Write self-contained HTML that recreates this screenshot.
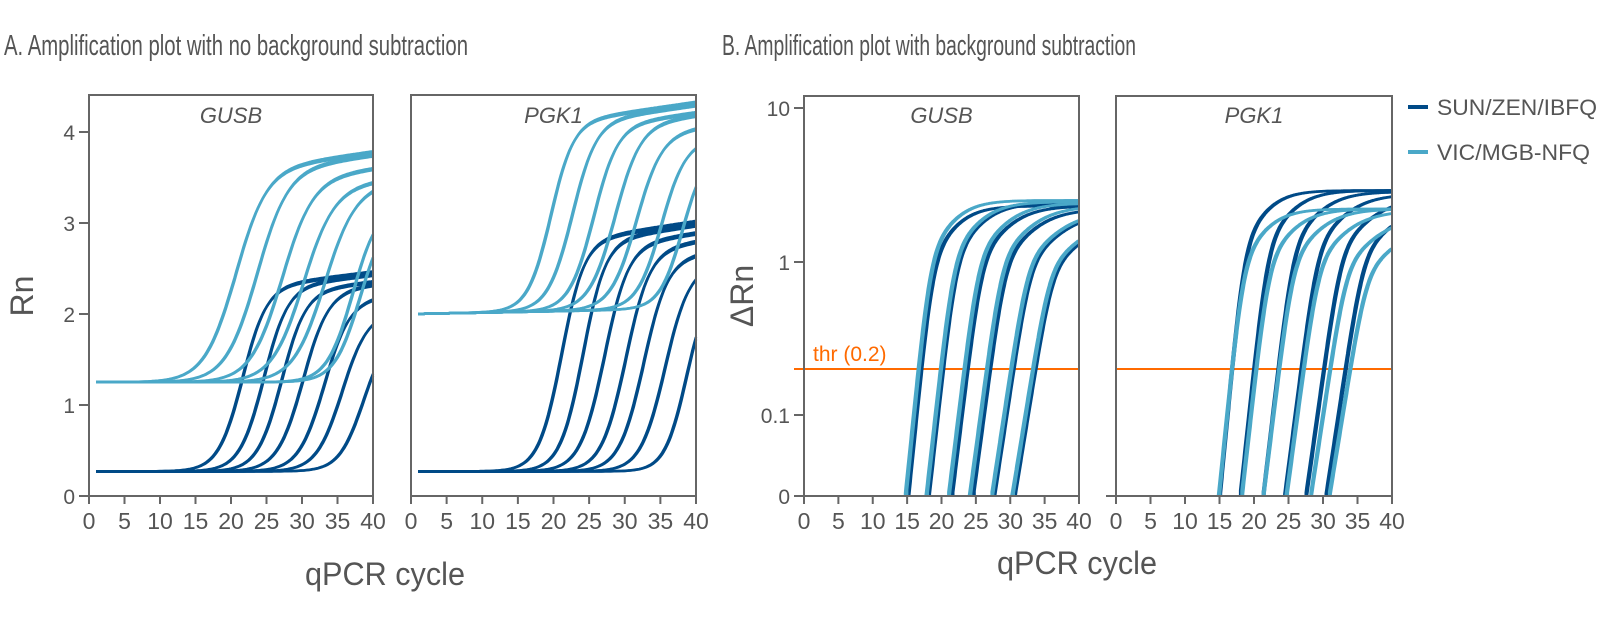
<!DOCTYPE html>
<html><head><meta charset="utf-8"><style>
html,body{margin:0;padding:0;background:#fff}
svg{display:block}
text{font-family:"Liberation Sans",sans-serif;fill:#555}
</style></head><body>
<svg id="s" width="1600" height="628" xmlns="http://www.w3.org/2000/svg">
<text x="4" y="55" font-size="29" textLength="464" lengthAdjust="spacingAndGlyphs">A. Amplification plot with no background subtraction</text>
<text x="722" y="55" font-size="29" textLength="414" lengthAdjust="spacingAndGlyphs">B. Amplification plot with background subtraction</text>
<text x="385" y="585" font-size="32" text-anchor="middle" textLength="160" lengthAdjust="spacingAndGlyphs">qPCR cycle</text>
<text x="1077" y="574" font-size="32" text-anchor="middle" textLength="160" lengthAdjust="spacingAndGlyphs">qPCR cycle</text>
<text transform="translate(33,296) rotate(-90)" font-size="32" text-anchor="middle">Rn</text>
<text transform="translate(753,296) rotate(-90)" font-size="32" text-anchor="middle">ΔRn</text>
<line x1="1408" y1="107" x2="1428" y2="107" stroke="#004a87" stroke-width="4"/>
<line x1="1408" y1="152" x2="1428" y2="152" stroke="#4aa8c8" stroke-width="4"/>
<text x="1437" y="115" font-size="22" textLength="160" lengthAdjust="spacingAndGlyphs">SUN/ZEN/IBFQ</text>
<text x="1437" y="160" font-size="22" textLength="153" lengthAdjust="spacingAndGlyphs">VIC/MGB-NFQ</text>
<g id="g"></g>
</svg>
<script>
var NS="http://www.w3.org/2000/svg",G=document.getElementById('g');
function el(t,a,txt){var e=document.createElementNS(NS,t);for(var k in a)e.setAttribute(k,a[k]);if(txt!=null)e.textContent=txt;G.appendChild(e);return e;}
var DARK="#004a87",LIGHT="#4aa8c8";
function panel(x0,x1,top,bot,title,yt){
  el('text',{x:(x0+x1)/2,y:123,'font-size':22,'font-style':'italic','text-anchor':'middle'},title);
  for(var c=0;c<=40;c+=5){var x=x0+(x1-x0)*c/40;el('line',{x1:x,y1:bot,x2:x,y2:bot+8,stroke:'#666','stroke-width':2});
    el('text',{x:x,y:bot+33,'font-size':23,'text-anchor':'middle'},c);}
  if(yt)yt.forEach(function(t){el('line',{x1:x0-10,y1:t[0],x2:x0,y2:t[0],stroke:'#666','stroke-width':2});
    el('text',{x:x0-14,y:t[0]+8,'font-size':21,'text-anchor':'end'},t[1]);});
}
function frame(x0,x1,top,bot){el('rect',{x:x0,y:top,width:x1-x0,height:bot-top,fill:'none',stroke:'#666','stroke-width':2});}
function path(pts,col,w){var d='M'+pts.map(function(p){return p[0].toFixed(1)+' '+p[1].toFixed(1)}).join('L');el('path',{d:d,fill:'none',stroke:col,'stroke-width':w||3,'stroke-linejoin':'round'});}
function ampA(x0,x1,base,slope,curves,col){
  var top=95,bot=496,ys=(bot-132)/4;
  curves.forEach(function(c){for(var k=0;k<2;k++){var pts=[];for(var t=1;t<=40;t+=0.25){
    var v=base+slope*t+c[1]*(1+0.01*k)/(1+Math.exp(-(t-c[0]-k*0.15)/c[2]))+0.012*Math.max(0,t-c[0])*c[1]/2.5;
    pts.push([x0+(x1-x0)*t/40,bot-v*ys]);}path(pts,col,2.6);}});
}
var yA=[[496,'0'],[405,'1'],[314,'2'],[223,'3'],[132,'4']];
panel(89,373,95,496,'GUSB',yA);
ampA(89,373,0.27,0,[[21.5,2.0,1.7],[24.5,2.0,1.7],[27,1.95,1.7],[30,1.95,1.8],[33,1.85,1.8],[35.5,1.7,1.8],[38.5,1.5,1.7]],DARK);
ampA(89,373,1.25,0,[[20.5,2.3,2.2],[23.5,2.3,2.2],[27,2.2,2.2],[30,2.1,2.2],[33,2.1,2.2],[37,1.9,1.8],[38,1.8,1.8]],LIGHT);
frame(89,373,95,496);
panel(411,696,95,496,'PGK1',null);
ampA(411,696,0.27,0,[[21,2.5,1.6],[24,2.5,1.6],[27,2.45,1.7],[30,2.4,1.7],[32.5,2.3,1.7],[35.5,2.2,1.7],[38.5,2.0,1.5]],DARK);
ampA(411,696,2.0,0.0015,[[19.5,2.05,1.6],[22.5,2.05,1.7],[25.5,2.0,1.7],[28.5,2.0,1.8],[31.5,1.9,1.8],[35,1.8,1.7],[38,1.7,1.6]],LIGHT);
frame(411,696,95,496);
var dec=153.5;function ly(v){return 415-Math.log10(v/0.1)*dec;}
function ampB(x0,x1,curves,col){
  curves.forEach(function(c){for(var k=0;k<2;k++){var pts=[],s=c[2],m=c[0]+2.3*s+k*0.25;
    for(var t=1;t<=40;t+=0.1){var ss=s*(1+1.3/(1+Math.exp(-(t-m)/1.2)));var v=c[1]/(1+Math.exp(-(t-m)/ss));var y=ly(v);if(y>496){continue;}
      if(!pts.length){pts.push([x0+(x1-x0)*t/40,496]);}pts.push([x0+(x1-x0)*t/40,y]);}
    path(pts,col,2.6);}});
}
var yB=[[108,'10'],[262,'1'],[415,'0.1'],[496,'0']];
panel(804,1079,96,496,'GUSB',yB);
el('line',{x1:794,y1:369,x2:1079,y2:369,stroke:'#ff6a00','stroke-width':2});
el('line',{x1:1116,y1:369,x2:1392,y2:369,stroke:'#ff6a00','stroke-width':2});
el('text',{x:813,y:361,'font-size':21,style:'fill:#ff6a00'},'thr (0.2)');
ampB(804,1079,[[17.3,2.3,1.05],[20.5,2.4,1.15],[24,2.3,1.25],[27.2,2.2,1.35],[30.5,2.1,1.5],[33.5,1.9,1.6]],DARK);
ampB(804,1079,[[17,2.5,1.05],[20.2,2.45,1.15],[23.6,2.4,1.25],[26.8,2.3,1.35],[30.2,2.15,1.5],[33.2,1.95,1.6]],LIGHT);
frame(804,1079,96,496);
panel(1116,1392,96,496,'PGK1',null);
el('line',{x1:1116,y1:496,x2:1106,y2:496,stroke:'#666','stroke-width':2});
ampB(1116,1392,[[17.3,2.9,1.0],[20.5,2.9,1.1],[24,2.85,1.2],[27.3,2.75,1.3],[30.5,2.6,1.4],[33.5,2.4,1.5]],DARK);
ampB(1116,1392,[[17,2.2,1.05],[20.5,2.2,1.15],[23.8,2.2,1.25],[27.3,2.15,1.35],[31,2.0,1.5],[33.7,1.8,1.6]],LIGHT);
frame(1116,1392,96,496);
</script>
</body></html>
